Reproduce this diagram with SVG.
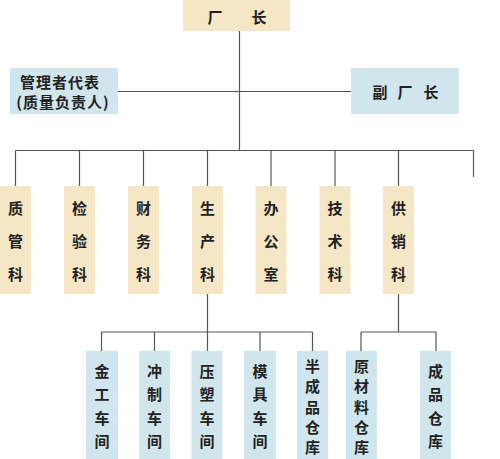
<svg xmlns="http://www.w3.org/2000/svg" width="500" height="459" viewBox="0 0 500 459">
<style>
.y{fill:#f5e7c6}
.b{fill:#d1e6ec}
.t{font-family:"Noto Sans CJK SC","Noto Sans CJK TC",sans-serif;font-size:15px;font-weight:bold;fill:#222;text-anchor:middle;dominant-baseline:central}
.l{stroke:#555;stroke-width:1.2;fill:none}
</style>
<rect width="500" height="459" fill="#fff"/>
<g id="connectors" class="l">
<path d="M239.5 31V150.5M118 91.5H351"/>
<path d="M15.5 150.5H473.5M15.5 150.5V186M79.5 150.5V186M143.5 150.5V186M207.5 150.5V186M271 150.5V186M335 150.5V186M398.5 150.5V186M473.5 150.5V177"/>
<path d="M207.5 294V332M101.5 332H312.5M101.5 332V351M154.5 332V351M207.5 332V351M260 332V351M312.5 332V351"/>
<path d="M398.5 294V332M361 332H436M361 332V351M436 332V351"/>
</g>
<g id="n-changzhang"><rect class="y" x="183" y="0" width="107" height="31"/><text class="t" x="215" y="16">厂</text><text class="t" x="259" y="16">长</text></g>
<g id="n-guanli"><rect class="b" x="10" y="68" width="108" height="46"/><text class="t" x="60" y="81" letter-spacing="1">管理者代表</text><text class="t" x="63" y="101" letter-spacing="1">(质量负责人)</text></g>
<g id="n-fuchangzhang"><rect class="b" x="351" y="68" width="108" height="46"/><text class="t" x="380" y="91">副</text><text class="t" x="405" y="91">厂</text><text class="t" x="431" y="91">长</text></g>
<g id="n-zhiguan"><rect class="y" x="0" y="186" width="31" height="108"/><text class="t" x="15.5" y="207">质</text><text class="t" x="15.5" y="240">管</text><text class="t" x="15.5" y="273">科</text></g>
<g id="n-jianyan"><rect class="y" x="64" y="186" width="31" height="108"/><text class="t" x="79.5" y="207">检</text><text class="t" x="79.5" y="240">验</text><text class="t" x="79.5" y="273">科</text></g>
<g id="n-caiwu"><rect class="y" x="128" y="186" width="31" height="108"/><text class="t" x="143.5" y="207">财</text><text class="t" x="143.5" y="240">务</text><text class="t" x="143.5" y="273">科</text></g>
<g id="n-shengchan"><rect class="y" x="192" y="186" width="31" height="108"/><text class="t" x="207.5" y="207">生</text><text class="t" x="207.5" y="240">产</text><text class="t" x="207.5" y="273">科</text></g>
<g id="n-bangong"><rect class="y" x="255.5" y="186" width="31" height="108"/><text class="t" x="271" y="207">办</text><text class="t" x="271" y="240">公</text><text class="t" x="271" y="273">室</text></g>
<g id="n-jishu"><rect class="y" x="319.5" y="186" width="31" height="108"/><text class="t" x="335" y="207">技</text><text class="t" x="335" y="240">术</text><text class="t" x="335" y="273">科</text></g>
<g id="n-gongxiao"><rect class="y" x="383" y="186" width="31" height="108"/><text class="t" x="398.5" y="207">供</text><text class="t" x="398.5" y="240">销</text><text class="t" x="398.5" y="273">科</text></g>
<g id="n-jingong"><rect class="b" x="86" y="351" width="32" height="108"/><text class="t" x="102" y="370">金</text><text class="t" x="102" y="393.5">工</text><text class="t" x="102" y="417">车</text><text class="t" x="102" y="440.5">间</text></g>
<g id="n-chongzhi"><rect class="b" x="139" y="351" width="31" height="108"/><text class="t" x="154.5" y="370">冲</text><text class="t" x="154.5" y="393.5">制</text><text class="t" x="154.5" y="417">车</text><text class="t" x="154.5" y="440.5">间</text></g>
<g id="n-yasu"><rect class="b" x="191.5" y="351" width="31" height="108"/><text class="t" x="207" y="370">压</text><text class="t" x="207" y="393.5">塑</text><text class="t" x="207" y="417">车</text><text class="t" x="207" y="440.5">间</text></g>
<g id="n-moju"><rect class="b" x="244" y="351" width="32" height="108"/><text class="t" x="260" y="370">模</text><text class="t" x="260" y="393.5">具</text><text class="t" x="260" y="417">车</text><text class="t" x="260" y="440.5">间</text></g>
<g id="n-banchengpin"><rect class="b" x="297" y="351" width="31" height="108"/><text class="t" x="312.5" y="365">半</text><text class="t" x="312.5" y="385.5">成</text><text class="t" x="312.5" y="406">品</text><text class="t" x="312.5" y="426.5">仓</text><text class="t" x="312.5" y="446">库</text></g>
<g id="n-yuancailiao"><rect class="b" x="346" y="351" width="31" height="108"/><text class="t" x="361.5" y="365">原</text><text class="t" x="361.5" y="385.5">材</text><text class="t" x="361.5" y="406">料</text><text class="t" x="361.5" y="426.5">仓</text><text class="t" x="361.5" y="446">库</text></g>
<g id="n-chengpin"><rect class="b" x="420" y="351" width="31" height="108"/><text class="t" x="435.5" y="370">成</text><text class="t" x="435.5" y="393.5">品</text><text class="t" x="435.5" y="417">仓</text><text class="t" x="435.5" y="440.5">库</text></g>
</svg>
